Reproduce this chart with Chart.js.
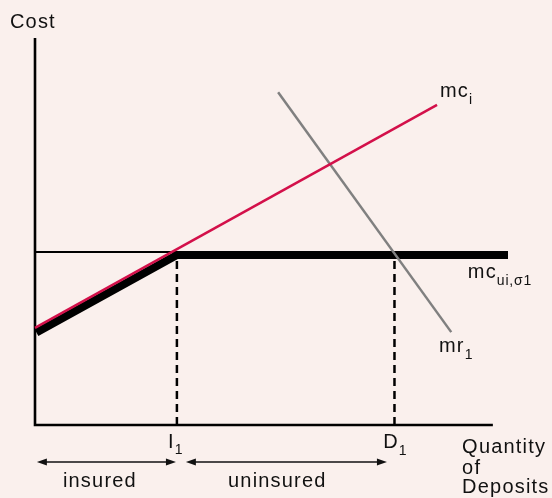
<!DOCTYPE html>
<html>
<head>
<meta charset="utf-8">
<script src="https://cdn.jsdelivr.net/npm/chart.js@4.4.0/dist/chart.umd.min.js"></script>
<style>
  html, body { margin: 0; padding: 0; background: #faf0ed; }
  #wrap { width: 552px; height: 498px; position: relative; }
</style>
</head>
<body>
<div id="wrap"><canvas id="grafica"></canvas></div>
<script>
// quantities on x (0..100), cost on y (0..100)
const I1 = 30;
const D1 = 76;
const mciX = [0, 85];
const mciY = [25.1, 82.7];
const mcuiX = [0.3, 30, 100];
const mcuiY = [23.9, 43.9, 43.9];
const thinX = [0, 30];
const thinY = [44.7, 44.7];
const mrX = [51.4, 88];
const mrY = [86, 24];
const axisX = [0, 0, 96.8];
const axisY = [100, 0, 0];

const FONT = '"Liberation Sans", Arial, Helvetica, sans-serif';

function pts(xs, ys) {
    return xs.map((x, i) => ({ x: x, y: ys[i] }));
}

function linea(xs, ys, color, width, dash) {
    return {
        data: pts(xs, ys),
        showLine: true,
        borderColor: color,
        borderWidth: width,
        borderDash: dash || [],
        borderCapStyle: 'butt',
        pointRadius: 0,
        clip: false,
        tension: 0
    };
}

// texts: [main, sub, x, y, subDx, subDy]
const etiquetas = [
    ['mc', 'i', 85.6, 84.8, 0, 7],
    ['mc', 'ui,\u03c31', 91.5, 38, 0, 7],
    ['mr', '1', 85.4, 18.9, 0, 7],
    ['I', '1', 28.1, -5.9, 0, 6],
    ['D', '1', 73.6, -5.9, 0, 7]
];

const textos = {
    id: 'textos',
    beforeDraw(chart) {
        const c = chart.ctx;
        c.save();
        c.fillStyle = '#faf0ed';
        c.fillRect(0, 0, chart.width, chart.height);
        c.restore();
    },
    afterDraw(chart) {
        const c = chart.ctx;
        const xs = chart.scales.x, ys = chart.scales.y;
        const px = v => xs.getPixelForValue(v);
        const py = v => ys.getPixelForValue(v);
        c.save();
        c.fillStyle = '#111';
        c.textBaseline = 'alphabetic';
        c.letterSpacing = '1.2px';
        c.font = '20px ' + FONT;
        c.fillText('Cost', px(-5.3), py(102.6));

        etiquetas.forEach(e => {
            const x = px(e[2]), y = py(e[3]);
            c.font = '20px ' + FONT;
            c.letterSpacing = '1.2px';
            c.fillText(e[0], x, y);
            const w = c.measureText(e[0]).width;
            c.font = '14px ' + FONT;
            c.letterSpacing = '0.8px';
            c.fillText(e[1], x + w + e[4], y + e[5]);
        });

        c.font = '20px ' + FONT;
        c.letterSpacing = '1.2px';
        const qx = px(90.3), qy = py(-7.2);
        c.fillText('Quantity', qx, qy);
        c.fillText('of', qx, qy + 21);
        c.fillText('Deposits', qx, qy + 40);

        // arrows below the axis
        const ay = py(0) + 37;
        function flecha(x1, x2) {
            c.strokeStyle = '#111';
            c.lineWidth = 1.6;
            c.beginPath();
            c.moveTo(x1 + 6, ay);
            c.lineTo(x2 - 6, ay);
            c.stroke();
            c.beginPath();
            c.moveTo(x1, ay); c.lineTo(x1 + 10, ay - 3.5); c.lineTo(x1 + 10, ay + 3.5);
            c.closePath(); c.fill();
            c.beginPath();
            c.moveTo(x2, ay); c.lineTo(x2 - 10, ay - 3.5); c.lineTo(x2 - 10, ay + 3.5);
            c.closePath(); c.fill();
        }
        flecha(px(0.4), px(29.8));
        flecha(px(31.9), px(74.4));

        c.font = '20px ' + FONT;
        c.letterSpacing = '1.2px';
        c.fillText('insured', px(5.9), ay + 25);
        c.fillText('uninsured', px(40.8), ay + 25);
        c.restore();
    }
};

const ctx = document.getElementById('grafica').getContext('2d');
const grafica = new Chart(ctx, {
    type: 'scatter',
    data: {
        datasets: [
            linea(mciX, mciY, '#d3104a', 2.5),
            linea(mrX, mrY, '#808080', 2.5),
            linea(mcuiX, mcuiY, '#000', 8),
            linea(thinX, thinY, '#000', 2),
            linea([I1, I1], [0, 43.9], '#000', 2.5, [8, 5]),
            linea([D1, D1], [0, 43.9], '#000', 2.5, [8, 5]),
            linea(axisX, axisY, '#000', 2.6)
        ]
    },
    options: {
        responsive: true,
        maintainAspectRatio: false,
        animation: false,
        events: [],
        layout: { padding: { left: 35, top: 38, right: 44, bottom: 73 } },
        plugins: { legend: { display: false }, tooltip: { enabled: false } },
        scales: {
            x: { type: 'linear', min: 0, max: 100, display: false },
            y: { type: 'linear', min: 0, max: 100, display: false }
        }
    },
    plugins: [textos]
});
</script>
</body>
</html>
